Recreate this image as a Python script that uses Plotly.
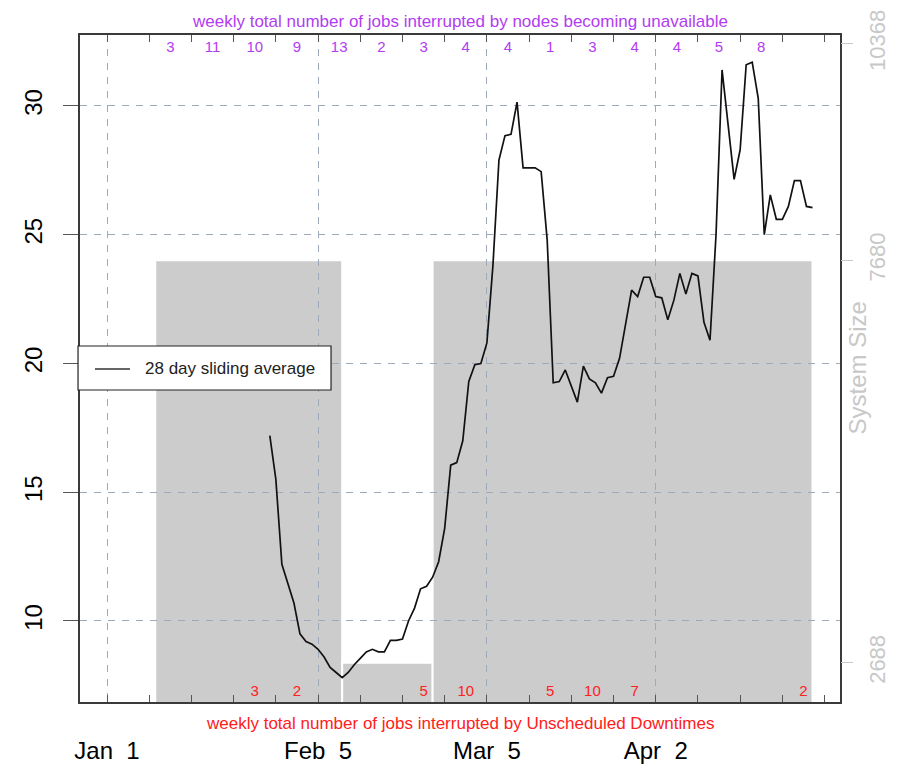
import plotly.graph_objects as go

# ---- data -------------------------------------------------------------
# 28 day sliding average of interrupted jobs (x = days since Jan 1)
avg_day = list(range(27, 118))
avg_val = [
    17.2, 15.5, 12.2, 11.4, 10.7, 9.5, 9.2, 9.1, 8.9, 8.6,      # 27-36
    8.2, 8.0, 7.8, 8.0, 8.3, 8.55, 8.8, 8.9, 8.8, 8.8,         # 37-46
    9.25, 9.25, 9.3, 10.0, 10.5, 11.25, 11.35, 11.7, 12.3, 13.6,  # 47-56
    16.05, 16.15, 17.0, 19.3, 19.95, 20.0, 20.8, 23.8, 27.9, 28.85,  # 57-66
    28.9, 30.15, 27.6, 27.6, 27.6, 27.45, 24.8, 19.25, 19.3, 19.75,  # 67-76
    19.1, 18.5, 19.9, 19.4, 19.25, 18.85, 19.45, 19.5, 20.2, 21.5,   # 77-86
    22.85, 22.6, 23.35, 23.35, 22.6, 22.55, 21.7, 22.45, 23.5, 22.7,  # 87-96
    23.5, 23.4, 21.6, 20.9, 25.0, 31.4, 29.2, 27.15, 28.3, 31.6,     # 97-106
    31.7, 30.3, 25.0, 26.55, 25.6, 25.6, 26.1, 27.1, 27.1, 26.1,     # 107-116
    26.05,                                                          # 117
]

# system size periods (start day, end day, nodes)
size_start = [8, 39, 54]
size_end = [39, 54, 117]
size_nodes = [7680, 2688, 7680]
size_ticks = [2688, 7680, 10368]

# weekly counts (week index counted from Jan 1)
node_week = [1, 2, 3, 4, 5, 6, 7, 8, 9, 10, 11, 12, 13, 14, 15]
node_jobs = [3, 11, 10, 9, 13, 2, 3, 4, 4, 1, 3, 4, 4, 5, 8]
down_week = [3, 4, 7, 8, 10, 11, 12, 16]
down_jobs = [3, 2, 5, 10, 5, 10, 7, 2]

# date axis labels
date_tick_day = [0, 35, 63, 91]
date_tick_text = ["Jan \u00a01", "Feb \u00a05", "Mar \u00a05", "Apr \u00a02"]
avg_ticks = [10, 15, 20, 25, 30]

# ---- derived positions ------------------------------------------------
X_RANGE = [-4.48, 121.56]
week_edges = list(range(0, 120, 7))
node_mid = [7 * w + 3.5 for w in node_week]
down_mid = [7 * w + 3.5 for w in down_week]

FONT = "Liberation Sans, Arial, Helvetica, sans-serif"
GRID = "#9ea9b9"
FRAME = "#3a3a3a"
PURPLE = "#b23cf0"
RED = "#ff2020"
LIGHT = "#c8c8c8"

fig = go.Figure()

# sliding average line
fig.add_trace(go.Scatter(
    x=avg_day, y=avg_val, mode="lines",
    line=dict(color="#111111", width=1.7),
    name="28 day sliding average", showlegend=False,
    xaxis="x", yaxis="y",
))
# carriers for the secondary axes
fig.add_trace(go.Scatter(x=size_start, y=size_nodes, mode="none",
                         showlegend=False, hoverinfo="skip",
                         xaxis="x", yaxis="y2"))
fig.add_trace(go.Scatter(x=node_mid, y=[None] * len(node_mid), mode="none",
                         showlegend=False, hoverinfo="skip",
                         xaxis="x2", yaxis="y"))
fig.add_trace(go.Scatter(x=down_mid, y=[None] * len(down_mid), mode="none",
                         showlegend=False, hoverinfo="skip",
                         xaxis="x3", yaxis="y"))

# system size blocks, drawn under the grid
shapes = []
for s, e, n in zip(size_start, size_end, size_nodes):
    shapes.append(dict(
        type="rect", xref="x", yref="y2", x0=s, x1=e, y0=0, y1=n,
        fillcolor="#cccccc", line=dict(color="white", width=2),
        layer="below",
    ))

# legend box
shapes.append(dict(type="rect", xref="paper", yref="paper",
                   x0=-0.0026, x1=0.3303, y0=0.4678, y1=0.5337,
                   fillcolor="white", line=dict(color="#222222", width=1.2),
                   layer="above"))
shapes.append(dict(type="line", xref="paper", yref="paper",
                   x0=0.0197, x1=0.0658, y0=0.4993, y1=0.4993,
                   line=dict(color="#333333", width=1.6), layer="above"))

annotations = [
    dict(text="weekly total number of jobs interrupted by nodes becoming unavailable",
         xref="paper", yref="paper", x=0.5, y=1.0195, xanchor="center",
         yanchor="middle", showarrow=False,
         font=dict(family=FONT, size=17, color=PURPLE)),
    dict(text="weekly total number of jobs interrupted by Unscheduled Downtimes",
         xref="paper", yref="paper", x=0.5, y=-0.0315, xanchor="center",
         yanchor="middle", showarrow=False,
         font=dict(family=FONT, size=17, color=RED)),
    dict(text="System Size", xref="paper", yref="paper", x=1.0, y=0.5,
         xanchor="center", yanchor="middle", xshift=17, textangle=-90,
         showarrow=False, font=dict(family=FONT, size=24, color=LIGHT)),
    dict(text="28 day sliding average", xref="paper", yref="paper",
         x=0.0835, y=0.4993, xanchor="left", yanchor="middle",
         showarrow=False, font=dict(family=FONT, size=17, color="#222222")),
]

fig.update_layout(
    width=913, height=768,
    margin=dict(l=80, r=73, t=35, b=66, pad=0),
    plot_bgcolor="white", paper_bgcolor="white",
    showlegend=False,
    font=dict(family=FONT),
    shapes=shapes,
    annotations=annotations,
    xaxis=dict(
        range=X_RANGE, tickmode="array", tickvals=date_tick_day,
        ticktext=date_tick_text, ticks="inside", ticklen=7, tickwidth=1,
        tickcolor="#555555", tickfont=dict(size=24, color="black"),
        ticklabelstandoff=26,
        showgrid=True, gridcolor=GRID, griddash="7px,7px", gridwidth=1.3,
        showline=True, linecolor=FRAME, linewidth=1.5, mirror=True,
        zeroline=False, automargin=False,
        minor=dict(tickmode="array", tickvals=week_edges, ticks="inside",
                   ticklen=7, tickcolor="#555555", showgrid=False),
    ),
    xaxis2=dict(
        overlaying="x", anchor="y", side="top", range=X_RANGE,
        tickmode="array", tickvals=node_mid, ticktext=[str(v) for v in node_jobs],
        ticks="", ticklabelposition="inside", ticklabelstandoff=3,
        tickfont=dict(size=15, color=PURPLE),
        showgrid=False, showline=False, zeroline=False, automargin=False,
        minor=dict(tickmode="array", tickvals=week_edges, ticks="inside",
                   ticklen=7, tickcolor="#555555", showgrid=False),
    ),
    xaxis3=dict(
        overlaying="x", anchor="y", side="bottom", range=X_RANGE,
        tickmode="array", tickvals=down_mid, ticktext=[str(v) for v in down_jobs],
        ticks="", ticklabelposition="inside",
        tickfont=dict(size=15, color=RED),
        showgrid=False, showline=False, zeroline=False, automargin=False,
    ),
    yaxis=dict(
        range=[6.854, 32.757], tickmode="array", tickvals=avg_ticks,
        ticks="outside", ticklen=15, tickcolor="#555555", tickangle=-90,
        ticklabelstandoff=12,
        tickfont=dict(size=24, color="black"),
        showgrid=True, gridcolor=GRID, griddash="7px,7px", gridwidth=1.3,
        showline=True, linecolor=FRAME, linewidth=1.5, mirror=True,
        zeroline=False, automargin=False,
    ),
    yaxis2=dict(
        overlaying="y", anchor="x", side="right", range=[2200, 10475],
        tickmode="array", tickvals=size_ticks,
        ticktext=[str(v) for v in size_ticks],
        ticks="outside", ticklen=12,
        tickcolor=LIGHT, tickangle=-90, ticklabelstandoff=6,
        ticklabeloverflow="allow",
        tickfont=dict(size=22, color=LIGHT),
        showgrid=False, showline=False, zeroline=False, automargin=False,
    ),
)

fig.write_html("out.html")
